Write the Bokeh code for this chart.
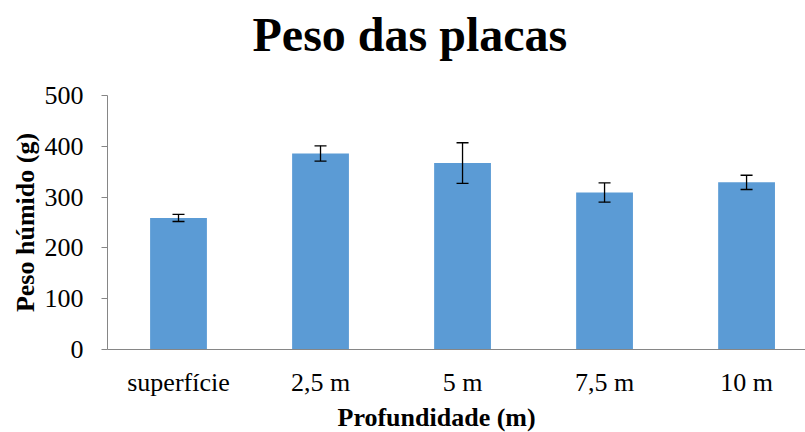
from bokeh.plotting import figure
from bokeh.models import ColumnDataSource, Whisker, TeeHead, FixedTicker, Range1d, Title
from bokeh.embed import file_html
from bokeh.resources import INLINE

categories = ["superfície", "2,5 m", "5 m", "7,5 m", "10 m"]
peso = [259, 386, 367, 309, 329]
erro = [7, 15, 40, 19, 14]
y_ticks = [0, 100, 200, 300, 400, 500]

xs = list(range(len(categories)))
src = ColumnDataSource(dict(
    x=xs, top=peso,
    lower=[v - e for v, e in zip(peso, erro)],
    upper=[v + e for v, e in zip(peso, erro)],
))

FONT = "Liberation Serif"

p = figure(width=805, height=432, output_backend="svg", toolbar_location=None,
           x_range=Range1d(-0.5, 4.415), y_range=Range1d(0, 500),
           min_border_left=107, min_border_top=95, min_border_right=0,
           min_border_bottom=83)
p.outline_line_color = None
p.xgrid.grid_line_color = None
p.ygrid.grid_line_color = None

# spacer between frame and the chart title
spacer_top = Title(text=" ", text_font_size="1px", standoff=32)
p.add_layout(spacer_top, "above")
main_title = Title(text="Peso das placas", text_font=FONT, text_font_size="48px",
                   text_font_style="bold", text_color="black", align="left",
                   offset=145, standoff=0)
p.add_layout(main_title, "above")

p.vbar(x="x", top="top", width=0.4, source=src, fill_color="#5B9BD5", line_color=None)

w = Whisker(base="x", lower="lower", upper="upper", source=src, level="overlay",
            line_color="black", line_width=1.3,
            upper_head=TeeHead(size=12, line_color="black", line_width=1.3),
            lower_head=TeeHead(size=12, line_color="black", line_width=1.3))
p.add_layout(w)

ax = p.xaxis[0]
ax.ticker = FixedTicker(ticks=xs)
ax.major_label_overrides = {i: c for i, c in enumerate(categories)}
ax.major_tick_out = 0
ax.major_tick_in = 0
ax.minor_tick_line_color = None
ax.axis_line_color = "#868686"
ax.major_label_text_font = FONT
ax.major_label_text_font_size = "26px"
ax.major_label_text_color = "black"
ax.major_label_standoff = 18

xlabel = Title(text="Profundidade (m)", text_font=FONT, text_font_size="26px",
               text_font_style="bold", text_color="black", align="left",
               offset=230, standoff=2, vertical_align="bottom")
p.add_layout(xlabel, "below")

ay = p.yaxis[0]
ay.ticker = FixedTicker(ticks=y_ticks)
ay.major_tick_out = 6
ay.major_tick_in = 0
ay.major_tick_line_color = "#868686"
ay.minor_tick_line_color = None
ay.axis_line_color = "#868686"
ay.major_label_text_font = FONT
ay.major_label_text_font_size = "26px"
ay.major_label_text_color = "black"
ay.major_label_standoff = 18
ay.axis_label = "Peso húmido (g)"
ay.axis_label_text_font = FONT
ay.axis_label_text_font_size = "26px"
ay.axis_label_text_font_style = "bold"
ay.axis_label_text_color = "black"
ay.axis_label_standoff = 2

open("out.html", "w").write(file_html(p, INLINE))
